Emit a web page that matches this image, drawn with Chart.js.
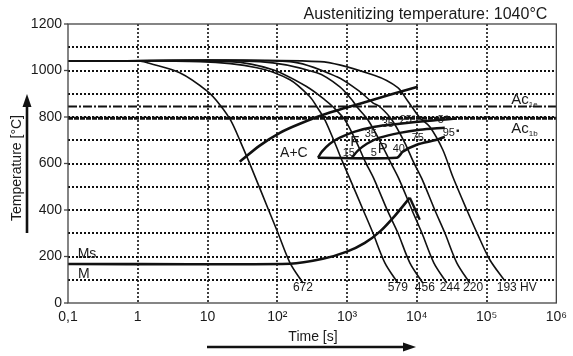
<!DOCTYPE html>
<html><head><meta charset="utf-8">
<script src="https://cdn.jsdelivr.net/npm/chart.js@4/dist/chart.umd.min.js"></script>
<style>html,body{margin:0;padding:0;background:#fff;}canvas{display:block}</style>
</head><body>
<canvas id="c" width="573" height="356"></canvas>
<script>
// ---------- data ----------
const xTickValues = [0.1, 1, 10, 100, 1000, 10000, 100000, 1000000];
const xTickLabels = ['0,1', '1', '10', '10²', '10³', '10⁴', '10⁵', '10⁶'];
const yTickValues = [0, 200, 400, 600, 800, 1000, 1200];
const gridTemps = [100, 200, 300, 400, 500, 600, 700, 800, 900, 1000, 1100];
const gridTimes = [1, 10, 100, 1000, 10000, 100000];
const ac1e = 845;
const ac1b = 795;

// cooling curves [time s, temperature °C]
const curve672 = [[0.1,1040],[1.1,1040],[1.5,1030],[4,990],[10,910],[15,853],[21.6,784],[30.1,689],[39.2,608],[49.3,535],[75.8,397],[102,302],[152,173],[233,86]];
const curve579 = [[0.1,1040],[7.8,1038],[51,1012],[152,960],[293,887],[369,844],[481,788],[668,689],[860,608],[1096,535],[1720,397],[2344,302],[3483,173],[5344,86]];
const curve456 = [[0.1,1040],[20.9,1038],[86.5,1003],[266,930],[481,874],[626,844],[929,788],[1382,689],[1820,608],[2421,535],[3800,397],[5344,302],[7943,173],[12190,86]];
const curve244 = [[0.1,1040],[56.4,1038],[369,990],[789,930],[1172,874],[1382,844],[1986,788],[3048,689],[4150,608],[5521,535],[8600,397],[11800,302],[17530,173],[26920,86]];
const curve220 = [[0.1,1040],[152,1038],[715,973],[1525,909],[2344,861],[2951,844],[4385,788],[6730,689],[8900,608],[11800,535],[18300,397],[25180,302],[37410,173],[57410,86]];
const curve193 = [[0.1,1040],[408,1038],[2503,978],[5344,926],[7194,874],[8474,844],[11040,797],[15350,758],[23560,659],[32810,543],[52000,401],[74820,294],[111200,186],[182300,95]];

// transformation lines
const carbideStart = [[29,608],[56,677],[109,732],[211,771],[567,819],[1525,857],[4103,896],[10330,930]];
const ferriteStart = [[382,625],[436,651],[567,685],[789,711],[1294,737],[2503,758],[5706,771],[15350,784],[37410,793]];
const pearliteStart = [[1172,625],[1429,655],[1923,685],[2951,711],[5706,732],[11040,745],[25180,754]];
const transformEnd = [[382,625],[5164,625],[6295,651],[10000,681],[19350,702],[25180,715]];
const msLine = [[0.1,168],[152,169],[450,190],[994,221],[1799,259],[2951,307],[4842,375],[7943,453]];
const msDrop = [[7943,453],[11040,358]];

// hardness labels HV at the end of each curve
const hvLabels = ['672', '579', '456', '244', '220', '193 HV'];
const hvTimes = [233, 5344, 13030, 29700, 64000, 271000];
const hvTemp = 66;

// percentage / phase labels [text, time, temp, size]
const phaseLabels = [
  ['A+C', 173, 646, 14],
  ['F', 1294, 694, 15],
  ['P', 3258, 664, 15],
  ['15', 1062, 646, 11],
  ['5', 2421, 646, 11],
  ['40', 5521, 664, 11],
  ['35', 2193, 728, 11],
  ['35', 3846, 771, 11],
  ['25', 6950, 788, 11],
  ['5', 22080, 788, 11],
  ['75', 10330, 711, 11],
  ['95', 28710, 732, 11],
  ['Ms', 0.187, 212, 14],
  ['M', 0.169, 126, 14]
];
const markerPoints = [[9057, 801], [26920, 801], [38640, 741]];

const toXY = a => a.map(p => ({x: p[0], y: p[1]}));
const FONT = '"Liberation Sans", Arial, sans-serif';
const INK = '#111';

function curveDs(d, w) {
  return {data: toXY(d), borderColor: INK, borderWidth: w, pointRadius: 0, showLine: true,
          tension: 0.3, fill: false};
}
function lineDs(d, w, dash) {
  return {data: toXY(d), borderColor: INK, borderWidth: w, pointRadius: 0, showLine: true,
          tension: 0, borderDash: dash || [], fill: false};
}

const datasets = [
  lineDs([[0.1, ac1e], [1e6, ac1e]], 2, [9, 2, 2, 2]),
  lineDs([[0.1, ac1b], [1e6, ac1b]], 3, [5, 1]),
  curveDs(curve672, 1.6), curveDs(curve579, 1.6), curveDs(curve456, 1.6),
  curveDs(curve244, 1.6), curveDs(curve220, 1.6), curveDs(curve193, 1.6),
  curveDs(carbideStart, 2.6), curveDs(ferriteStart, 2.4), curveDs(pearliteStart, 2.4),
  curveDs(transformEnd, 2.6), curveDs(msLine, 2.6), lineDs(msDrop, 2.4)
];

const decor = {
  id: 'decor',
  beforeDatasetsDraw(chart) {
    const {ctx, chartArea: a, scales: {x, y}} = chart;
    ctx.save();
    ctx.strokeStyle = INK;
    ctx.setLineDash([2, 2]);
    ctx.lineWidth = 2;
    gridTemps.forEach(v => {
      const py = Math.round(y.getPixelForValue(v));
      ctx.beginPath(); ctx.moveTo(a.left, py); ctx.lineTo(a.right, py); ctx.stroke();
    });
    ctx.lineWidth = 1.6;
    gridTimes.forEach(v => {
      const px = Math.round(x.getPixelForValue(v));
      ctx.beginPath(); ctx.moveTo(px, a.top); ctx.lineTo(px, a.bottom); ctx.stroke();
    });
    ctx.restore();
  },
  afterDraw(chart) {
    const {ctx, chartArea: a, scales: {x, y}} = chart;
    ctx.save();
    ctx.setLineDash([]);
    ctx.strokeStyle = '#444';
    ctx.lineWidth = 1.3;
    ctx.strokeRect(a.left, a.top, a.right - a.left, a.bottom - a.top);
    yTickValues.forEach(v => {
      const py = y.getPixelForValue(v);
      ctx.beginPath(); ctx.moveTo(a.left - 4, py); ctx.lineTo(a.left, py); ctx.stroke();
    });
    ctx.fillStyle = '#1a1a1a';
    ctx.textBaseline = 'middle';
    ctx.font = '12px ' + FONT;
    ctx.textAlign = 'center';
    hvLabels.forEach((s, i) => ctx.fillText(s, x.getPixelForValue(hvTimes[i]), y.getPixelForValue(hvTemp)));
    phaseLabels.forEach(l => {
      ctx.font = l[3] + 'px ' + FONT;
      ctx.fillText(l[0], x.getPixelForValue(l[1]), y.getPixelForValue(l[2]));
    });
    markerPoints.forEach(p => {
      ctx.fillRect(x.getPixelForValue(p[0]) - 1.2, y.getPixelForValue(p[1]) - 1.2, 2.4, 2.4);
    });
    const drawAc = (sub, T) => {
      const px = a.right - 45, py = y.getPixelForValue(T);
      ctx.textAlign = 'left';
      ctx.font = '15px ' + FONT;
      ctx.fillText('Ac', px, py);
      const w = ctx.measureText('Ac').width;
      ctx.font = '8px ' + FONT;
      ctx.fillText(sub, px + w, py + 5);
    };
    drawAc('1e', 874);
    drawAc('1b', 748);
    ctx.font = '16px ' + FONT;
    ctx.textAlign = 'right';
    ctx.textBaseline = 'alphabetic';
    ctx.fillText('Austenitizing temperature: 1040°C', a.right - 9, 19);
    ctx.textAlign = 'center';
    ctx.textBaseline = 'middle';
    ctx.font = '14px ' + FONT;
    ctx.fillText('Time [s]', 313, 337);
    ctx.strokeStyle = INK;
    ctx.fillStyle = INK;
    ctx.lineWidth = 2.6;
    ctx.beginPath(); ctx.moveTo(207, 347); ctx.lineTo(405, 347); ctx.stroke();
    ctx.beginPath(); ctx.moveTo(416, 347); ctx.lineTo(403, 342.5); ctx.lineTo(403, 351.5); ctx.closePath(); ctx.fill();
    ctx.save();
    ctx.translate(17, 168);
    ctx.rotate(-Math.PI / 2);
    ctx.fillStyle = '#1a1a1a';
    ctx.fillText('Temperature [°C]', 0, 0);
    ctx.restore();
    ctx.beginPath(); ctx.moveTo(27, 233); ctx.lineTo(27, 105); ctx.stroke();
    ctx.beginPath(); ctx.moveTo(27, 94); ctx.lineTo(22.5, 107); ctx.lineTo(31.5, 107); ctx.closePath(); ctx.fill();
    ctx.restore();
  }
};

new Chart(document.getElementById('c'), {
  type: 'scatter',
  data: {datasets},
  options: {
    responsive: false,
    devicePixelRatio: 1,
    animation: false,
    layout: {padding: {top: 24, right: 16, left: 0, bottom: 0}},
    plugins: {legend: {display: false}, tooltip: {enabled: false}, title: {display: false}},
    scales: {
      x: {
        type: 'logarithmic', min: 0.1, max: 1e6,
        grid: {display: false, drawTicks: false},
        border: {display: false},
        afterBuildTicks: s => { s.ticks = xTickValues.map(v => ({value: v})); },
        afterFit: s => { s.height = 53; },
        ticks: {autoSkip: false, maxRotation: 0, padding: 6, color: '#1a1a1a',
                font: {family: FONT, size: 14},
                callback: (v, i) => xTickLabels[i]}
      },
      y: {
        type: 'linear', min: 0, max: 1200,
        grid: {display: false, drawTicks: false},
        border: {display: false},
        afterBuildTicks: s => { s.ticks = yTickValues.map(v => ({value: v})); },
        afterFit: s => { s.width = 68; },
        ticks: {padding: 6, color: '#1a1a1a', font: {family: FONT, size: 14},
                callback: v => String(v)}
      }
    }
  },
  plugins: [decor]
});
</script>
</body></html>
